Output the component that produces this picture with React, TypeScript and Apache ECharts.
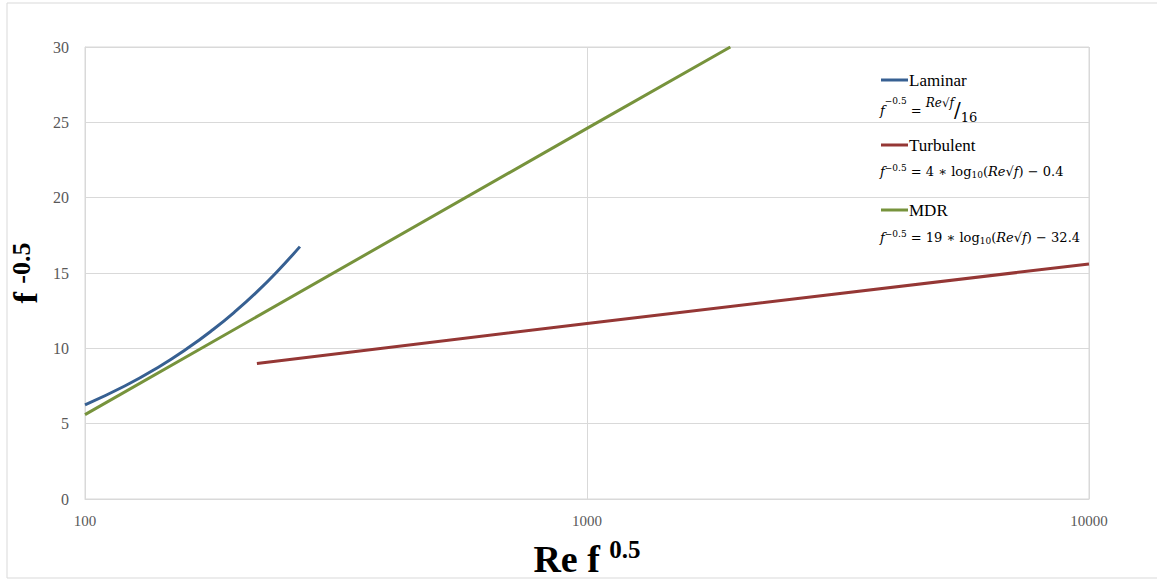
import React, { useEffect, useRef } from "react";
import * as echarts from "echarts";

const laminarX = [100, 120, 140, 160, 180, 200, 220, 240, 268];
const laminarY = [6.25, 7.5, 8.75, 10.0, 11.25, 12.5, 13.75, 15.0, 16.75];
const turbulentX = [220, 1000, 10000];
const turbulentY = [9.0, 11.65, 15.6];
const mdrX = [100, 1000, 1930];
const mdrY = [5.6, 24.6, 30];
const seriesNames = ["Laminar", "Turbulent", "MDR"];
const colors = ["#376092", "#953735", "#77933C"];
const yTicks = [0, 5, 10, 15, 20, 25, 30];

const zip = (xs: number[], ys: number[]) => xs.map((x, i) => [x, ys[i]]);

const serif = "Liberation Serif";
const mathFont = "DejaVu Serif";

export default function App() {
  const ref = useRef<HTMLDivElement>(null);
  useEffect(() => {
    if (!ref.current) return;
    const chart = echarts.init(ref.current, undefined, { renderer: "svg" });
    const eqRich = {
      i: { fontFamily: mathFont, fontStyle: "italic", fontSize: 13, color: "#000" },
      s: { fontFamily: mathFont, fontSize: 9, color: "#000", verticalAlign: "top", padding: [0, 0, 7, 0] },
      n: { fontFamily: mathFont, fontSize: 13, color: "#000" },
      b: { fontFamily: mathFont, fontSize: 9, color: "#000", padding: [7, 0, 0, 0] },
      up: { fontFamily: mathFont, fontStyle: "italic", fontSize: 12, color: "#000", padding: [0, 0, 14, 0] },
      sl: { fontFamily: mathFont, fontSize: 20, color: "#000" },
      dn: { fontFamily: mathFont, fontSize: 13, color: "#000", padding: [14, 0, 0, 0] },
    };
    const legendItem = (i: number, y: number, eq: string, eqY: number) => [
      {
        type: "line",
        shape: { x1: 881, y1: y, x2: 908, y2: y },
        style: { stroke: colors[i], lineWidth: 3 },
      },
      {
        type: "text",
        x: 909,
        y: y,
        style: {
          text: "{t|" + seriesNames[i] + "}",
          rich: { t: { fontFamily: serif, fontSize: 17, color: "#000" } },
          verticalAlign: "middle",
        },
      },
      {
        type: "text",
        x: 880,
        y: eqY,
        style: { text: eq, rich: eqRich, verticalAlign: "middle" },
      },
    ];
    chart.setOption({
      animation: false,
      backgroundColor: "#fff",
      grid: {
        left: 85,
        right: 68,
        top: 47,
        bottom: 81,
        show: true,
        borderColor: "#D9D9D9",
        borderWidth: 1,
        containLabel: false,
        outerBoundsMode: "none",
      },
      xAxis: {
        type: "log",
        logBase: 10,
        min: 100,
        max: 10000,
        name: "{a|Re f }{b|0.5}",
        nameLocation: "middle",
        nameGap: 38,
        nameTextStyle: {
          rich: {
            a: { fontFamily: serif, fontWeight: "bold", fontSize: 38, color: "#000" },
            b: { fontFamily: serif, fontWeight: "bold", fontSize: 25, color: "#000", padding: [0, 0, 18, 0] },
          },
        },
        axisLine: { show: true, lineStyle: { color: "#D9D9D9" } },
        axisTick: { show: false },
        splitLine: { show: true, lineStyle: { color: "#D9D9D9" } },
        minorSplitLine: { show: false },
        axisLabel: {
          fontFamily: serif,
          fontSize: 15,
          color: "#595959",
          margin: 14,
          formatter: (v: number) => String(Math.round(v)),
        },
      },
      yAxis: {
        type: "value",
        min: yTicks[0],
        max: yTicks[yTicks.length - 1],
        interval: 5,
        name: "{a|f }{b|-0.5}",
        nameLocation: "middle",
        nameRotate: 90,
        nameGap: 30,
        nameTextStyle: {
          rich: {
            a: { fontFamily: serif, fontWeight: "bold", fontSize: 34, color: "#000" },
            b: { fontFamily: serif, fontWeight: "bold", fontSize: 26, color: "#000", padding: [0, 0, 8, 0] },
          },
        },
        axisLine: { show: true, lineStyle: { color: "#D9D9D9" } },
        axisTick: { show: false },
        splitLine: { show: true, lineStyle: { color: "#D9D9D9" } },
        axisLabel: { fontFamily: serif, fontSize: 16, color: "#595959", margin: 16 },
      },
      series: [
        {
          name: seriesNames[0],
          type: "line",
          data: zip(laminarX, laminarY),
          smooth: true,
          showSymbol: false,
          lineStyle: { color: colors[0], width: 3 },
          itemStyle: { color: colors[0] },
        },
        {
          name: seriesNames[1],
          type: "line",
          data: zip(turbulentX, turbulentY),
          showSymbol: false,
          lineStyle: { color: colors[1], width: 3 },
          itemStyle: { color: colors[1] },
        },
        {
          name: seriesNames[2],
          type: "line",
          data: zip(mdrX, mdrY),
          showSymbol: false,
          lineStyle: { color: colors[2], width: 3 },
          itemStyle: { color: colors[2] },
        },
      ],
      graphic: [
        {
          type: "rect",
          shape: { x: 7, y: 3, width: 1160, height: 575 },
          style: { fill: "none", stroke: "#D9D9D9", lineWidth: 1 },
          silent: true,
          z: -1,
        },
        ...legendItem(0, 80, "{i|f}{s|−0.5}{n| = }{up|Re√f}{sl|/}{dn|16}", 110),
        ...legendItem(1, 145, "{i|f}{s|−0.5}{n| = 4 ∗ log}{b|10}{n|(}{i|Re√f}{n|) − 0.4}", 171),
        ...legendItem(2, 210, "{i|f}{s|−0.5}{n| = 19 ∗ log}{b|10}{n|(}{i|Re√f}{n|) − 32.4}", 237),
      ],
    });
    return () => chart.dispose();
  }, []);
  return (
    <div
      ref={ref}
      style={{ position: "fixed", left: 0, top: 0, width: 1157, height: 580 }}
    />
  );
}
